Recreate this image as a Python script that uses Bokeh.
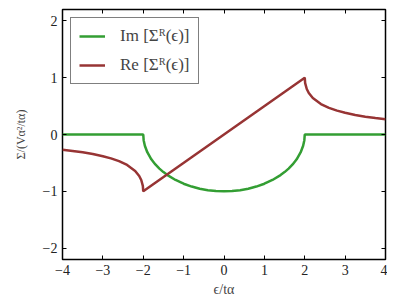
from bokeh.plotting import figure
from bokeh.models import FixedTicker, LinearAxis, Range1d, Legend, LegendItem
from bokeh.embed import file_html
from bokeh.resources import INLINE

# Im[Sigma^R(eps)]
eps_im = [-4.0, -2.0, -1.99, -1.96, -1.9, -1.8, -1.7, -1.6, -1.5, -1.4, -1.2, -1.0, -0.8, -0.6, -0.4, -0.2, 0.0,
          0.2, 0.4, 0.6, 0.8, 1.0, 1.2, 1.4, 1.5, 1.6, 1.7, 1.8, 1.9, 1.96, 1.99, 2.0, 4.0]
im_sigma = [0.0, 0.0, -0.0999, -0.199, -0.3122, -0.4359, -0.5268, -0.6, -0.6614, -0.7141, -0.8, -0.866, -0.9165,
            -0.9539, -0.9798, -0.995, -1.0,
            -0.995, -0.9798, -0.9539, -0.9165, -0.866, -0.8, -0.7141, -0.6614, -0.6, -0.5268, -0.4359, -0.3122,
            -0.199, -0.0999, 0.0, 0.0]

# Re[Sigma^R(eps)]
eps_re = [-4.0, -3.75, -3.5, -3.25, -3.0, -2.8, -2.6, -2.4, -2.2, -2.1, -2.05, -2.01, -2.0,
          0.0, 2.0, 2.01, 2.05, 2.1, 2.2, 2.4, 2.6, 2.8, 3.0, 3.25, 3.5, 3.75, 4.0]
re_sigma = [-0.2679, -0.2889, -0.3139, -0.3441, -0.382, -0.4202, -0.4693, -0.5367, -0.6417, -0.7298, -0.8, -0.9049, -1.0,
            0.0, 1.0, 0.9049, 0.8, 0.7298, 0.6417, 0.5367, 0.4693, 0.4202, 0.382, 0.3441, 0.3139, 0.2889, 0.2679]

x_ticks = [-4, -3, -2, -1, 0, 1, 2, 3, 4]
y_ticks = [-2, -1, 0, 1, 2]
legend_labels = ["Im [Σᴿ(ϵ)]", "Re [Σᴿ(ϵ)]"]

FONT = "'Liberation Serif', serif"
GREEN = "#339e33"
RED = "#973434"

p = figure(frame_width=323, frame_height=250, output_backend="svg", toolbar_location=None,
           x_range=Range1d(-4, 4), y_range=Range1d(-2.2, 2.2),
           min_border_left=62, min_border_right=2, min_border_top=9, min_border_bottom=20)
p.grid.visible = False
p.outline_line_color = "black"
p.outline_line_width = 1.5
p.background_fill_color = "white"
p.border_fill_color = "white"

g1 = p.line(eps_im, im_sigma, line_color=GREEN, line_width=2.5)
g2 = p.line(eps_re, re_sigma, line_color=RED, line_width=2.5)

def fmt(v):
    return ("−" + str(abs(v))) if v < 0 else str(v)

for ax, ticks in ((p.xaxis[0], x_ticks), (p.yaxis[0], y_ticks)):
    ax.ticker = FixedTicker(ticks=ticks)
    ax.major_label_overrides = {t: fmt(t) for t in ticks}
    ax.major_tick_in = 4
    ax.major_tick_out = 0
    ax.minor_tick_in = 0
    ax.minor_tick_out = 0
    ax.axis_line_color = None
    ax.major_tick_line_color = "black"
    ax.major_label_text_font = FONT
    ax.major_label_text_font_size = "14px"
    ax.major_label_text_color = "#222222"
    ax.axis_label_text_font = FONT
    ax.axis_label_text_font_style = "normal"
    ax.axis_label_text_font_size = "14px"
    ax.major_label_standoff = 5

p.xaxis[0].axis_label = "ϵ/tα"
p.xaxis[0].axis_label_standoff = 4
p.yaxis[0].axis_label = "Σ/(Vα²/tα)"
p.yaxis[0].axis_label_text_font_size = "12px"
p.yaxis[0].axis_label_standoff = 12

for loc, ticks in (("above", x_ticks), ("right", y_ticks)):
    ax = LinearAxis(ticker=FixedTicker(ticks=ticks),
                    major_label_overrides={t: "" for t in ticks},
                    major_tick_in=4, major_tick_out=0, minor_tick_in=0, minor_tick_out=0,
                    axis_line_color=None, major_label_standoff=0)
    p.add_layout(ax, loc)

legend = Legend(items=[LegendItem(label=legend_labels[0], renderers=[g1]),
                       LegendItem(label=legend_labels[1], renderers=[g2])],
                location="top_left")
legend.border_line_color = "black"
legend.border_line_width = 1.5
legend.label_text_font = FONT
legend.label_text_font_size = "17px"
legend.glyph_width = 26
legend.glyph_height = 20
legend.spacing = 9
legend.padding = 8
legend.margin = 8
legend.label_standoff = 15
legend.background_fill_alpha = 1.0
p.add_layout(legend)

open("out.html", "w").write(file_html(p, INLINE))
